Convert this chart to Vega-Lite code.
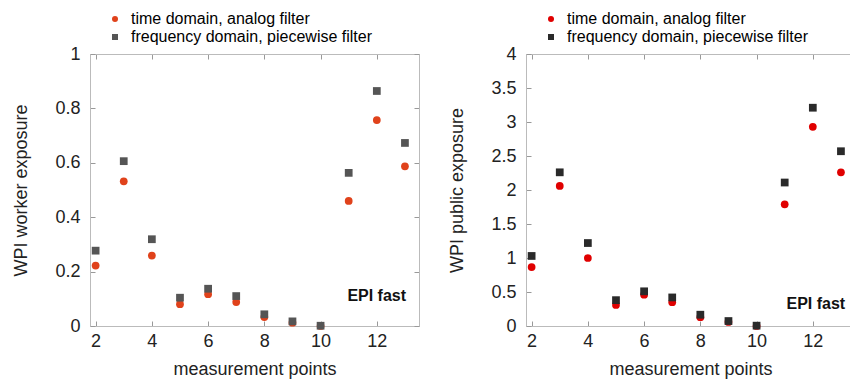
{
  "$schema": "https://vega.github.io/schema/vega-lite/v6.json",
  "padding": {"top": 10, "left": 12, "right": 0, "bottom": 0},
  "background": "white",
  "config": {
    "font": "Liberation Sans",
    "view": {"stroke": "#bbbbbb", "strokeWidth": 1},
    "axis": {
      "grid": false,
      "domainColor": "#bbbbbb",
      "tickColor": "#999999",
      "tickSize": -5,
      "labelFontSize": 18,
      "labelColor": "#222222",
      "titleFontSize": 18,
      "titleFontWeight": "normal",
      "titleColor": "#222222",
      "labelFont": "Liberation Sans",
      "titleFont": "Liberation Sans"
    },
    "legend": {
      "labelFont": "Liberation Sans",
      "labelFontSize": 16,
      "labelLimit": 0,
      "symbolSize": 36,
      "labelOffset": 8,
      "rowPadding": 2,
      "padding": 0
    }
  },
  "datasets": {
    "worker": [
      {"point": 2, "series": "time domain, analog filter", "value": 0.222},
      {"point": 3, "series": "time domain, analog filter", "value": 0.532},
      {"point": 4, "series": "time domain, analog filter", "value": 0.259},
      {"point": 5, "series": "time domain, analog filter", "value": 0.080},
      {"point": 6, "series": "time domain, analog filter", "value": 0.117},
      {"point": 7, "series": "time domain, analog filter", "value": 0.088},
      {"point": 8, "series": "time domain, analog filter", "value": 0.033},
      {"point": 9, "series": "time domain, analog filter", "value": 0.012},
      {"point": 10, "series": "time domain, analog filter", "value": 0.0},
      {"point": 11, "series": "time domain, analog filter", "value": 0.460},
      {"point": 12, "series": "time domain, analog filter", "value": 0.757},
      {"point": 13, "series": "time domain, analog filter", "value": 0.587},
      {"point": 2, "series": "frequency domain, piecewise filter", "value": 0.277},
      {"point": 3, "series": "frequency domain, piecewise filter", "value": 0.606},
      {"point": 4, "series": "frequency domain, piecewise filter", "value": 0.319},
      {"point": 5, "series": "frequency domain, piecewise filter", "value": 0.104},
      {"point": 6, "series": "frequency domain, piecewise filter", "value": 0.137},
      {"point": 7, "series": "frequency domain, piecewise filter", "value": 0.110},
      {"point": 8, "series": "frequency domain, piecewise filter", "value": 0.043},
      {"point": 9, "series": "frequency domain, piecewise filter", "value": 0.017},
      {"point": 10, "series": "frequency domain, piecewise filter", "value": 0.001},
      {"point": 11, "series": "frequency domain, piecewise filter", "value": 0.563},
      {"point": 12, "series": "frequency domain, piecewise filter", "value": 0.864},
      {"point": 13, "series": "frequency domain, piecewise filter", "value": 0.673}
    ],
    "public": [
      {"point": 2, "series": "time domain, analog filter", "value": 0.866},
      {"point": 3, "series": "time domain, analog filter", "value": 2.06},
      {"point": 4, "series": "time domain, analog filter", "value": 1.00},
      {"point": 5, "series": "time domain, analog filter", "value": 0.31},
      {"point": 6, "series": "time domain, analog filter", "value": 0.46},
      {"point": 7, "series": "time domain, analog filter", "value": 0.35},
      {"point": 8, "series": "time domain, analog filter", "value": 0.13},
      {"point": 9, "series": "time domain, analog filter", "value": 0.06},
      {"point": 10, "series": "time domain, analog filter", "value": 0.0},
      {"point": 11, "series": "time domain, analog filter", "value": 1.79},
      {"point": 12, "series": "time domain, analog filter", "value": 2.93},
      {"point": 13, "series": "time domain, analog filter", "value": 2.26},
      {"point": 2, "series": "frequency domain, piecewise filter", "value": 1.03},
      {"point": 3, "series": "frequency domain, piecewise filter", "value": 2.26},
      {"point": 4, "series": "frequency domain, piecewise filter", "value": 1.22},
      {"point": 5, "series": "frequency domain, piecewise filter", "value": 0.38},
      {"point": 6, "series": "frequency domain, piecewise filter", "value": 0.51},
      {"point": 7, "series": "frequency domain, piecewise filter", "value": 0.42},
      {"point": 8, "series": "frequency domain, piecewise filter", "value": 0.166},
      {"point": 9, "series": "frequency domain, piecewise filter", "value": 0.073},
      {"point": 10, "series": "frequency domain, piecewise filter", "value": 0.005},
      {"point": 11, "series": "frequency domain, piecewise filter", "value": 2.11},
      {"point": 12, "series": "frequency domain, piecewise filter", "value": 3.21},
      {"point": 13, "series": "frequency domain, piecewise filter", "value": 2.57}
    ],
    "noteWorker": [{"label": "EPI fast", "x": 13.04, "y": 0.109}],
    "notePublic": [{"label": "EPI fast", "x": 13.15, "y": 0.32}]
  },
  "spacing": 28,
  "resolve": {
    "scale": {"color": "independent", "shape": "independent", "x": "independent", "y": "independent"},
    "legend": {"color": "independent", "shape": "independent"}
  },
  "hconcat": [
    {
      "width": 329,
      "height": 272,
      "layer": [
        {
          "data": {"name": "worker"},
          "mark": {"type": "point", "filled": true, "opacity": 1, "size": 60},
          "encoding": {
            "x": {"field": "point", "type": "quantitative",
                  "scale": {"domain": [1.8, 13.5], "nice": false, "zero": false},
                  "axis": {"orient": "bottom", "values": [2, 4, 6, 8, 10, 12], "format": "~g", "labelPadding": 11, "title": "measurement points", "titlePadding": 10}},
            "y": {"field": "value", "type": "quantitative",
                  "scale": {"domain": [0, 1], "nice": false, "zero": false},
                  "axis": {"orient": "left", "values": [0, 0.2, 0.4, 0.6, 0.8, 1], "format": "~g", "labelPadding": 15, "title": "WPI worker exposure", "titlePadding": 24}},
            "color": {"field": "series", "type": "nominal",
                      "scale": {"domain": ["time domain, analog filter", "frequency domain, piecewise filter"], "range": ["#e0421b", "#555555"]},
                      "legend": {"orient": "none", "legendX": 17, "legendY": -43, "title": null,
                                 "encode": {"labels": {"update": {"fill": {"signal": "datum.value === 'time domain, analog filter' ? '#d8421f' : '#555555'"}}}}}},
            "shape": {"field": "series", "type": "nominal",
                      "scale": {"domain": ["time domain, analog filter", "frequency domain, piecewise filter"], "range": ["circle", "square"]},
                      "legend": {"orient": "none", "legendX": 17, "legendY": -43, "title": null,
                                 "encode": {"labels": {"update": {"fill": {"signal": "datum.value === 'time domain, analog filter' ? '#d8421f' : '#555555'"}}}}}}
          }
        },
        {
          "data": {"name": "noteWorker"},
          "mark": {"type": "text", "align": "right", "baseline": "middle", "fontSize": 16, "fontWeight": "bold", "color": "#111111", "font": "Liberation Sans"},
          "encoding": {
            "x": {"field": "x", "type": "quantitative", "axis": null},
            "y": {"field": "y", "type": "quantitative", "axis": null},
            "text": {"field": "label"}
          }
        },
        {
          "data": {"name": "worker"},
          "mark": {"type": "point", "opacity": 0},
          "encoding": {
            "x": {"field": "point", "type": "quantitative",
                  "axis": {"orient": "top", "values": [2, 4, 6, 8, 10, 12], "labels": false, "title": null}},
            "y": {"field": "value", "type": "quantitative",
                  "axis": {"orient": "right", "values": [0, 0.2, 0.4, 0.6, 0.8, 1], "labels": false, "title": null}}
          }
        }
      ],
      "resolve": {"axis": {"x": "independent", "y": "independent"}}
    },
    {
      "width": 329,
      "height": 272,
      "layer": [
        {
          "data": {"name": "public"},
          "mark": {"type": "point", "filled": true, "opacity": 1, "size": 60},
          "encoding": {
            "x": {"field": "point", "type": "quantitative",
                  "scale": {"domain": [1.8, 13.5], "nice": false, "zero": false},
                  "axis": {"orient": "bottom", "values": [2, 4, 6, 8, 10, 12], "format": "~g", "labelPadding": 11, "title": "measurement points", "titlePadding": 10}},
            "y": {"field": "value", "type": "quantitative",
                  "scale": {"domain": [0, 4], "nice": false, "zero": false},
                  "axis": {"orient": "left", "values": [0, 0.5, 1, 1.5, 2, 2.5, 3, 3.5, 4], "format": "~g", "labelPadding": 15, "title": "WPI public exposure", "titlePadding": 24}},
            "color": {"field": "series", "type": "nominal",
                      "scale": {"domain": ["time domain, analog filter", "frequency domain, piecewise filter"], "range": ["#e00000", "#2a2a2a"]},
                      "legend": {"orient": "none", "legendX": 17, "legendY": -43, "title": null,
                                 "encode": {"labels": {"update": {"fill": {"signal": "datum.value === 'time domain, analog filter' ? '#e0101a' : '#333333'"}}}}}},
            "shape": {"field": "series", "type": "nominal",
                      "scale": {"domain": ["time domain, analog filter", "frequency domain, piecewise filter"], "range": ["circle", "square"]},
                      "legend": {"orient": "none", "legendX": 17, "legendY": -43, "title": null,
                                 "encode": {"labels": {"update": {"fill": {"signal": "datum.value === 'time domain, analog filter' ? '#e0101a' : '#333333'"}}}}}}
          }
        },
        {
          "data": {"name": "notePublic"},
          "mark": {"type": "text", "align": "right", "baseline": "middle", "fontSize": 16, "fontWeight": "bold", "color": "#111111", "font": "Liberation Sans"},
          "encoding": {
            "x": {"field": "x", "type": "quantitative", "axis": null},
            "y": {"field": "y", "type": "quantitative", "axis": null},
            "text": {"field": "label"}
          }
        },
        {
          "data": {"name": "public"},
          "mark": {"type": "point", "opacity": 0},
          "encoding": {
            "x": {"field": "point", "type": "quantitative",
                  "axis": {"orient": "top", "values": [2, 4, 6, 8, 10, 12], "labels": false, "title": null}},
            "y": {"field": "value", "type": "quantitative",
                  "axis": {"orient": "right", "values": [0, 0.5, 1, 1.5, 2, 2.5, 3, 3.5, 4], "labels": false, "title": null}}
          }
        }
      ],
      "resolve": {"axis": {"x": "independent", "y": "independent"}}
    }
  ]
}
